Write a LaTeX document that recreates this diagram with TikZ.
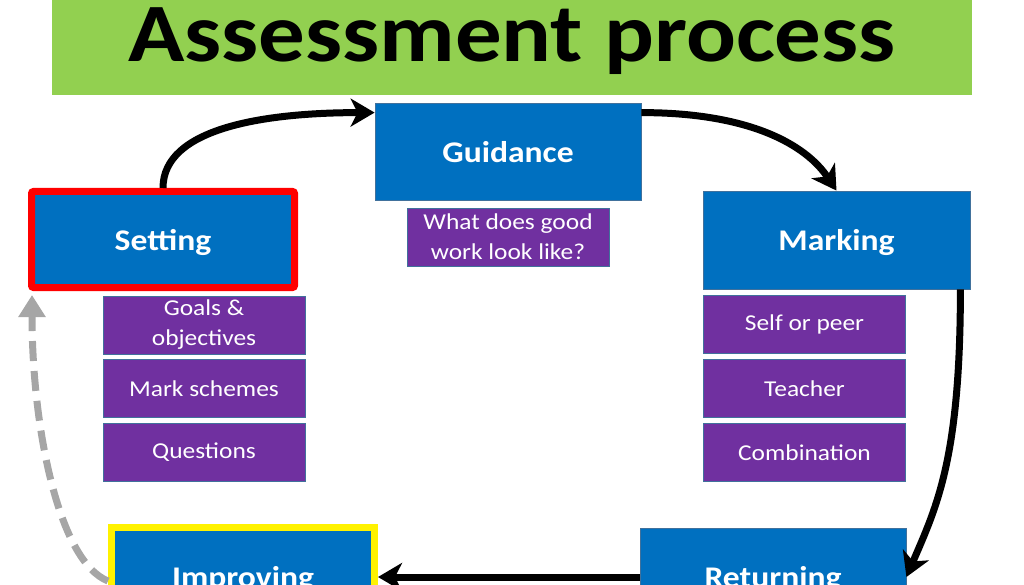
\documentclass[tikz,border=0pt]{standalone}
\usepackage{fontspec}
\setmainfont{Carlito}[FakeStretch=1.12]
\usetikzlibrary{arrows.meta}
\definecolor{boxblue}{HTML}{0070C0}
\definecolor{boxpurple}{HTML}{7030A0}
\definecolor{edgeblue}{HTML}{41719C}
\definecolor{bannergreen}{HTML}{92D050}
\definecolor{loopgray}{HTML}{A6A6A6}
\tikzset{
  stage/.style={draw=edgeblue, line width=0.8pt, fill=boxblue, text=white, inner sep=0pt,
    minimum width=266pt, minimum height=97pt, text depth=0pt, font=\fontsize{30}{36}\selectfont\bfseries},
  detail/.style={draw=edgeblue, line width=0.8pt, fill=boxpurple, text=white, inner sep=0pt,
    minimum width=202pt, minimum height=58pt, align=center, font=\fontsize{22.7}{30}\selectfont},
  flow/.style={line width=7pt, -{Stealth[length=24pt,width=28pt,inset=7pt]}},
  backflow/.style={line width=7pt, loopgray, dash pattern=on 20pt off 10pt, -{Triangle[length=22pt,width=26pt]}}
}
\begin{document}
\begin{tikzpicture}[x=1pt,y=-1pt]
\useasboundingbox (0,0) rectangle (1024,585);
\fill[bannergreen] (52,0) rectangle (972,95);
\node[anchor=base, font=\fontsize{83}{90}\selectfont\bfseries] (title) at (512,62) {Assessment process};

\node[stage] (guidance) at (508,151.5) {Guidance};
\node[detail] (good) at (508,237) {What does good\\work look like?};

\node[stage, draw=red, line width=7pt, rounded corners=2pt, minimum width=263pt, minimum height=96pt] (setting) at (163,239.5) {Setting};
\node[detail] (goals) at (204,325) {Goals \&\\objectives};
\node[detail] (schemes) at (204,388.5) {Mark schemes};
\node[detail] (questions) at (204,452.5) {Questions};

\node[stage, minimum width=267pt, minimum height=98pt] (marking) at (836.5,240) {Marking};
\node[detail] (peer) at (804.5,324) {Self or peer};
\node[detail] (teacher) at (804.5,388.5) {Teacher};
\node[detail] (combination) at (804.5,452.5) {Combination};

\node[stage, draw=yellow, line width=7pt, minimum width=263pt, minimum height=100pt] (improving) at (243,577) {Improving};
\node[stage] (returning) at (773,577) {Returning};

\draw[flow] (setting.north) .. controls +(0,-60) and +(-110,0) .. ([yshift=-10pt]guidance.north west);
\draw[flow] ([yshift=-10pt]guidance.north east) .. controls +(110,0) and +(-30,-45) .. (marking.north);
\draw[flow] ([xshift=-10pt]marking.south east) .. controls +(0,170) and +(30,-70) .. (returning.east);
\draw[flow] (returning.west) -- (improving.east);
\draw[backflow] ([yshift=-4pt]improving.west) .. controls +(-50,-20) and +(0,130) .. ([shift={(4pt,-4pt)}]setting.south west);
\end{tikzpicture}
\end{document}
